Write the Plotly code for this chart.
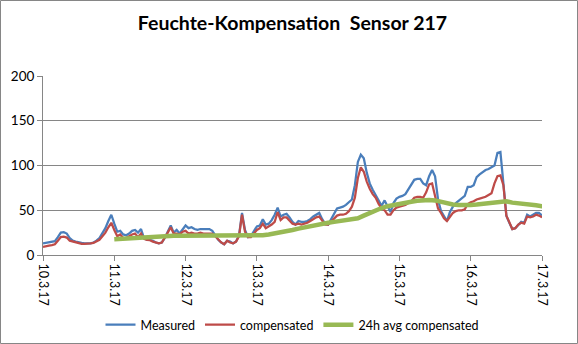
import pandas as pd
import plotly.graph_objects as go

# hourly readings from 10.3.17 00:00 to 17.3.17 00:00
start = "2017-03-10 00:00"
hours = 169

measured = [
    13, 13.5, 14, 14.5, 15.5, 20, 25, 25.5, 24, 19, 16, 15, 14, 13.5, 13, 13, 13, 14, 16, 19,
    25, 30, 38, 45, 35, 26, 27, 23, 22, 24, 27, 28, 25, 29, 19, 17, 17, 16, 14, 13,
    14, 19, 26, 33, 25, 28, 24, 29, 33, 30, 31, 29, 28, 29, 29, 29, 29, 27, 22, 17,
    14, 12, 16, 15, 13, 15, 22, 47, 28, 20, 21, 27, 32, 33, 40, 34, 35, 39, 45, 53,
    43, 45, 46, 42, 37, 34, 38, 37, 37, 38, 40, 43, 45, 47, 40, 35, 34, 40, 45, 52,
    53, 54, 56, 59, 62, 78, 104, 112, 108, 92, 80, 73, 67, 60, 55, 61, 55, 48, 58, 63,
    65, 66, 68, 73, 78, 84, 85, 85, 80, 78, 88, 95, 88, 62, 49, 43, 38, 48, 54, 58,
    61, 64, 66, 76, 76, 78, 87, 90, 93, 95, 96, 98, 100, 114, 115, 80, 44, 36, 29, 30,
    34, 37, 36, 45, 43, 45, 47, 47, 44,
]

compensated = [
    9, 10, 10.5, 11, 12, 16, 20, 20.5, 19.5, 16, 15, 14, 13, 12.5, 12.5, 12.5, 13, 13.5, 15, 17,
    21, 25, 31, 36, 28, 21, 23, 19, 19, 21, 23, 24, 20, 24, 18, 17, 16.5, 15, 14, 13,
    14, 19, 25, 31, 24, 24, 23, 26, 27, 24, 25, 24, 24, 25, 24, 24, 24, 24, 21, 17,
    14, 12, 16, 14, 13, 15, 21, 45, 26, 20, 20, 24, 28, 30, 35, 30, 32, 34, 37, 48,
    39, 42, 42, 38, 35, 34, 35, 34, 35, 36, 38, 40, 42, 43, 38, 34, 34, 37, 40, 44,
    45, 45, 46, 49, 54, 64, 86, 98, 93, 82, 74, 68, 64, 57, 52, 50, 45, 45, 50, 53,
    54, 55, 56, 58, 60, 64, 65, 65, 64, 70, 79, 80, 65, 52, 47, 41, 38, 43, 47, 49,
    50, 50, 51, 57, 59, 60, 62, 63, 64, 65, 67, 69, 80, 88, 89, 78, 44, 36, 29, 30,
    34, 36, 35, 43, 42, 43, 45, 44, 42,
]

# 24h moving average, every second hour from 11.3.17 00:00
avg_start = "2017-03-11 00:00"
avg_24h = [
    17.5, 18, 18.5, 19, 19.5, 20, 20.5, 20.5, 21, 21, 21.5, 21.5, 21.5, 22, 22, 22, 22, 22, 22, 22,
    22, 22, 21.5, 21.5, 21.5, 22, 23, 24, 25, 26.5, 28, 29.5, 31, 32.5, 34, 35, 36, 37, 38, 39,
    40, 41, 44, 47, 50, 52.5, 54.5, 56, 57.5, 58.5, 59.5, 60.5, 61.5, 61.5, 61, 59.5, 57.5, 56.5, 56, 55.5,
    56, 56.5, 57, 57.5, 58, 59, 60, 58.5, 58, 57, 56, 55.5, 54.5, 53.5,
]

series_names = ["Measured", "compensated", "24h avg compensated"]
series_colors = ["#4A7EBB", "#BE4B48", "#98B954"]

t = pd.date_range(start, periods=hours, freq="h")
t_avg = pd.date_range(avg_start, periods=len(avg_24h), freq="2h")

fig = go.Figure()
fig.add_trace(go.Scatter(x=t, y=measured, mode="lines", name=series_names[0],
                         line=dict(color=series_colors[0], width=2.25)))
fig.add_trace(go.Scatter(x=t, y=compensated, mode="lines", name=series_names[1],
                         line=dict(color=series_colors[1], width=2.25)))
fig.add_trace(go.Scatter(x=t_avg, y=avg_24h, mode="lines", name=series_names[2],
                         line=dict(color=series_colors[2], width=4.5)))

W, H = 578, 344
ml, mr, mt, mb = 43, 36, 76, 89
pw, ph = W - ml - mr, H - mt - mb
font = "Lato, Calibri, sans-serif"

fig.update_layout(
    width=W, height=H,
    margin=dict(l=ml, r=mr, t=mt, b=mb, autoexpand=False),
    paper_bgcolor="white", plot_bgcolor="white",
    font=dict(family=font, size=12, color="#000000"),
    title=dict(text="<b>Feuchte-Kompensation&nbsp;&nbsp;Sensor 217</b>",
               x=0.5, xanchor="center", xref="paper", y=1 - 23 / H, yanchor="middle",
               font=dict(family=font, size=19.5, color="#000000")),
    showlegend=True,
    legend=dict(orientation="h", x=0.5, xanchor="center", y=-(325 - (H - mb)) / ph, yanchor="middle",
                font=dict(family=font, size=12.5), itemwidth=30, tracegroupgap=0,
                bgcolor="rgba(0,0,0,0)"),
    shapes=[dict(type="rect", xref="paper", yref="paper",
                 x0=(0.5 - ml) / pw, x1=(W - 0.5 - ml) / pw,
                 y0=-(mb - 0.5) / ph, y1=1 + (mt - 0.5) / ph,
                 line=dict(color="#868686", width=1), fillcolor="rgba(0,0,0,0)", layer="below")],
)

fig.update_xaxes(
    range=[t[0], t[-1]], tickformat="%-d.%-m.%y", dtick=86400000, tick0=t[0],
    tickangle=90, ticks="outside", ticklen=5, tickcolor="#868686", automargin=False,
    showline=True, linecolor="#868686", linewidth=1, showgrid=False, zeroline=False,
    tickfont=dict(family=font, size=12.5),
)
fig.update_yaxes(
    range=[0, 200], dtick=50, ticks="outside", ticklen=5, tickcolor="#868686", automargin=False,
    showline=True, linecolor="#868686", linewidth=1,
    showgrid=True, gridcolor="#868686", gridwidth=1, zeroline=False,
    tickfont=dict(family=font, size=13.5),
)

fig.write_html("out.html")
